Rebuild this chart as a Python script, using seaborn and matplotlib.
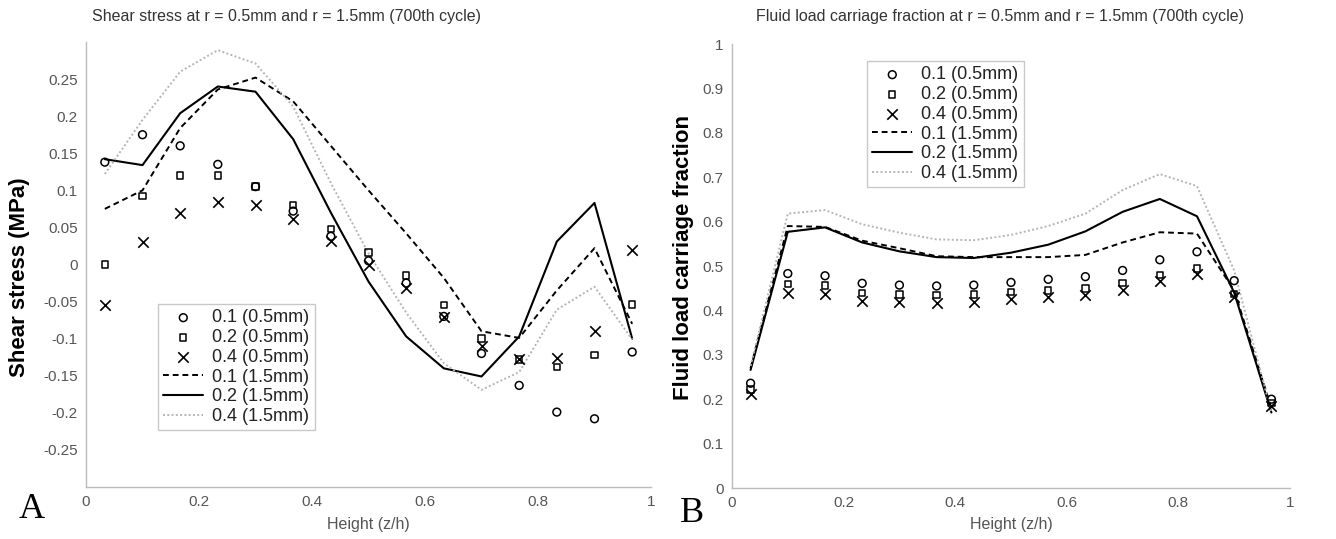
import numpy as np
import pandas as pd
import matplotlib
matplotlib.use("Agg")
import matplotlib.pyplot as plt
import seaborn as sns

# ---- data ----
height = [0.0333, 0.1, 0.1667, 0.2333, 0.3, 0.3667, 0.4333, 0.5,
          0.5667, 0.6333, 0.7, 0.7667, 0.8333, 0.9, 0.9667]

# Panel A: shear stress (MPa)
shear_01_05 = [0.138, 0.175, 0.160, 0.135, 0.105, 0.072, 0.038, 0.005,
               -0.025, -0.070, -0.120, -0.163, -0.199, -0.208, -0.118]
shear_02_05 = [0.000, 0.092, 0.120, 0.120, 0.105, 0.080, 0.048, 0.016,
               -0.015, -0.055, -0.100, -0.128, -0.138, -0.122, -0.054]
shear_04_05 = [-0.055, 0.030, 0.069, 0.084, 0.080, 0.062, 0.032, 0.000,
               -0.032, -0.071, -0.110, -0.128, -0.126, -0.090, 0.020]
shear_01_15 = [0.075, 0.100, 0.184, 0.236, 0.252, 0.220, 0.160, 0.100,
               0.042, -0.018, -0.090, -0.099, -0.035, 0.022, -0.080]
shear_02_15 = [0.142, 0.134, 0.204, 0.240, 0.233, 0.169, 0.070, -0.023,
               -0.097, -0.140, -0.151, -0.097, 0.031, 0.083, -0.100]
shear_04_15 = [0.122, 0.195, 0.260, 0.289, 0.271, 0.213, 0.110, 0.015,
               -0.065, -0.133, -0.169, -0.145, -0.061, -0.030, -0.101]

# Panel B: fluid load carriage fraction
fluid_01_05 = [0.236, 0.483, 0.478, 0.461, 0.457, 0.455, 0.457, 0.463,
               0.470, 0.476, 0.490, 0.514, 0.532, 0.467, 0.200]
fluid_02_05 = [0.222, 0.460, 0.456, 0.439, 0.436, 0.434, 0.436, 0.441,
               0.445, 0.449, 0.462, 0.480, 0.494, 0.437, 0.192]
fluid_04_05 = [0.212, 0.440, 0.436, 0.421, 0.418, 0.416, 0.419, 0.425,
               0.430, 0.434, 0.446, 0.466, 0.481, 0.430, 0.184]
fluid_01_15 = [0.270, 0.590, 0.588, 0.557, 0.540, 0.522, 0.520, 0.520,
               0.520, 0.525, 0.553, 0.576, 0.573, 0.445, 0.180]
fluid_02_15 = [0.266, 0.577, 0.587, 0.553, 0.533, 0.520, 0.518, 0.530,
               0.548, 0.578, 0.622, 0.651, 0.612, 0.440, 0.170]
fluid_04_15 = [0.275, 0.618, 0.626, 0.594, 0.575, 0.560, 0.558, 0.570,
               0.590, 0.618, 0.671, 0.707, 0.680, 0.490, 0.170]

labels = ["0.1 (0.5mm)", "0.2 (0.5mm)", "0.4 (0.5mm)",
          "0.1 (1.5mm)", "0.2 (1.5mm)", "0.4 (1.5mm)"]

sns.set_style("white")
plt.rcParams['font.family'] = ['Liberation Sans', 'DejaVu Sans']

fig = plt.figure(figsize=(13.36, 5.39), dpi=100)
W, H = 1336, 539
axA = fig.add_axes([86 / W, 1 - 487 / H, (651 - 86) / W, (487 - 42) / H])
axB = fig.add_axes([732 / W, 1 - 488 / H, (1290 - 732) / W, (488 - 44) / H])

gray_txt = "#555555"
spine_c = "#bbbbbb"


def draw(ax, pts, lines):
    mk = [("o", 5.6, "none"), ("s", 4.6, "none"), ("x", 7.5, None)]
    for (vals, lab), (m, s, fc) in zip(pts, mk):
        df = pd.DataFrame({"h": height, "v": vals})
        if fc is None:
            sns.scatterplot(data=df, x="h", y="v", ax=ax, marker=m, s=s ** 2,
                            color="black", linewidth=1.2, label=lab, zorder=3)
        else:
            sns.scatterplot(data=df, x="h", y="v", ax=ax, marker=m, s=s ** 2,
                            facecolor="none", edgecolor="black", linewidth=1.1,
                            label=lab, zorder=3)
    styles = [("black", (0, (3, 2)), 1.4), ("black", "-", 1.5),
              ("#b5b5b5", (0, (1, 1.2)), 1.4)]
    for (vals, lab), (c, ls, lw) in zip(lines, styles):
        df = pd.DataFrame({"h": height, "v": vals})
        sns.lineplot(data=df, x="h", y="v", ax=ax, color=c, linestyle=ls,
                     linewidth=lw, label=lab, zorder=2)
    ax.set_xlim(0, 1)
    ax.set_xticks([0, 0.2, 0.4, 0.6, 0.8, 1])
    ax.set_xticklabels(["0", "0.2", "0.4", "0.6", "0.8", "1"])
    for sp in ["top", "right"]:
        ax.spines[sp].set_visible(False)
    for sp in ["left", "bottom"]:
        ax.spines[sp].set_color(spine_c)
        ax.spines[sp].set_linewidth(1.0)
    ax.tick_params(direction="in", length=4, color=spine_c, labelsize=11,
                   labelcolor=gray_txt, pad=6)
    ax.set_xlabel("")
    ax.set_ylabel("")


draw(axA,
     [(shear_01_05, labels[0]), (shear_02_05, labels[1]), (shear_04_05, labels[2])],
     [(shear_01_15, labels[3]), (shear_02_15, labels[4]), (shear_04_15, labels[5])])
axA.set_ylim(-0.3, 0.3)
yt = [-0.25, -0.2, -0.15, -0.1, -0.05, 0, 0.05, 0.1, 0.15, 0.2, 0.25]
axA.set_yticks(yt)
axA.set_yticklabels(["-0.25", "-0.2", "-0.15", "-0.1", "-0.05", "0",
                     "0.05", "0.1", "0.15", "0.2", "0.25"])

draw(axB,
     [(fluid_01_05, labels[0]), (fluid_02_05, labels[1]), (fluid_04_05, labels[2])],
     [(fluid_01_15, labels[3]), (fluid_02_15, labels[4]), (fluid_04_15, labels[5])])
axB.set_ylim(0, 1)
axB.set_yticks(np.round(np.arange(0, 1.01, 0.1), 1))
axB.set_yticklabels(["0", "0.1", "0.2", "0.3", "0.4", "0.5", "0.6", "0.7",
                     "0.8", "0.9", "1"])


def legend(ax, x0, y0):
    lg = ax.legend(loc="upper left",
                   bbox_to_anchor=(x0 / W, 1 - y0 / H),
                   bbox_transform=fig.transFigure,
                   fontsize=13, frameon=True, fancybox=False,
                   handlelength=2.2, handletextpad=0.5, labelspacing=0.15,
                   borderpad=0.3, borderaxespad=0)
    lg.get_frame().set_edgecolor("#bbbbbb")
    lg.get_frame().set_linewidth(1.0)
    for t in lg.get_texts():
        t.set_color("#222222")


legend(axA, 158, 304)
legend(axB, 867, 61)

# titles / labels
fig.text(287 / W, 1 - 17 / H, "Shear stress at r = 0.5mm and r = 1.5mm (700th cycle)",
         ha="center", va="center", fontsize=11.5, color="#333333")
fig.text(1000 / W, 1 - 17 / H,
         "Fluid load carriage fraction at r = 0.5mm and r = 1.5mm (700th cycle)",
         ha="center", va="center", fontsize=11.5, color="#333333")
fig.text(368 / W, 1 - 524 / H, "Height (z/h)", ha="center", va="center",
         fontsize=11.5, color=gray_txt)
fig.text(1011 / W, 1 - 524 / H, "Height (z/h)", ha="center", va="center",
         fontsize=11.5, color=gray_txt)
fig.text(20 / W, 1 - 277 / H, "Shear stress (MPa)", rotation=90, ha="center",
         va="center", fontsize=16, fontweight="bold", color="black")
fig.text(684 / W, 1 - 258 / H, "Fluid load carriage fraction", rotation=90,
         ha="center", va="center", fontsize=16, fontweight="bold", color="black")
fig.text(32 / W, 1 - 510 / H, "A", ha="center", va="center", fontsize=26,
         family="Liberation Serif", color="black")
fig.text(692 / W, 1 - 513 / H, "B", ha="center", va="center", fontsize=26,
         family="Liberation Serif", color="black")

fig.savefig("out.png", dpi=100)
